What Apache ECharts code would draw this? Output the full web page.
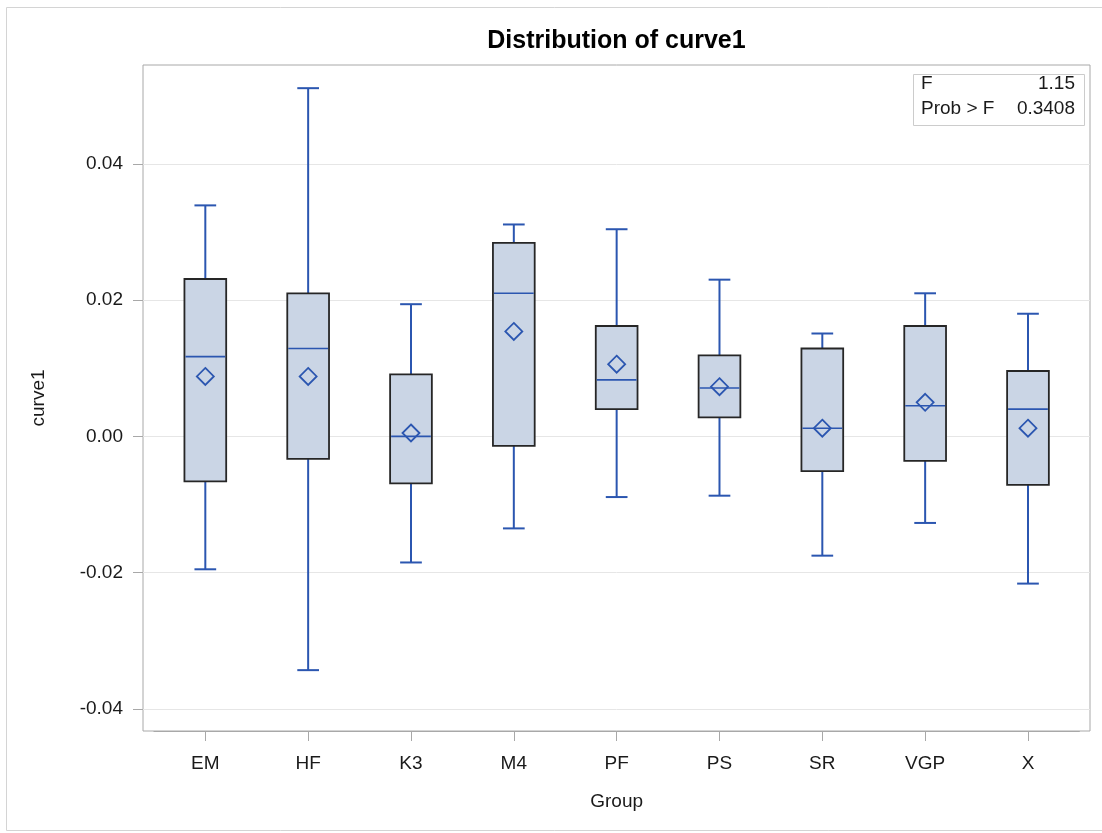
<!DOCTYPE html>
<html>
<head>
<meta charset="utf-8">
<script src="https://cdn.jsdelivr.net/npm/echarts@6/dist/echarts.min.js"></script>
<style>
html,body{margin:0;padding:0;background:#fff;}
#chart{width:1102px;height:833px;}
</style>
</head>
<body>
<div id="chart"></div>
<script>
// ---- data ----
const categories = ['EM', 'HF', 'K3', 'M4', 'PF', 'PS', 'SR', 'VGP', 'X'];
const minVals    = [-0.0195, -0.0343, -0.0185, -0.0135, -0.0089, -0.0087, -0.0175, -0.0127, -0.0216];
const q1Vals     = [-0.0066, -0.0033, -0.0069, -0.0014,  0.0040,  0.0028, -0.0051, -0.0036, -0.0071];
const medianVals = [ 0.0117,  0.0129,  0.0000,  0.0210,  0.0083,  0.0071,  0.0012,  0.0045,  0.0040];
const q3Vals     = [ 0.0231,  0.0210,  0.0091,  0.0284,  0.0162,  0.0119,  0.0129,  0.0162,  0.0096];
const maxVals    = [ 0.0339,  0.0511,  0.0194,  0.0311,  0.0304,  0.0230,  0.0151,  0.0210,  0.0180];
const meanVals   = [ 0.0088,  0.0088,  0.0005,  0.0154,  0.0106,  0.0073,  0.0012,  0.0050,  0.0012];
const yTicks     = [-0.04, -0.02, 0.00, 0.02, 0.04];
const yMin = -0.04323, yMax = 0.0545;
const statLabels = ['F', 'Prob > F'];
const statValues = ['1.15', '0.3408'];

const FONT = "'Liberation Sans', Arial, Helvetica, sans-serif";
const BLUE = '#2b56b0';
const GRAY = '#a8a8a8';

const boxData = categories.map((c, i) => [i, minVals[i], q1Vals[i], medianVals[i], q3Vals[i], maxVals[i], meanVals[i]]);

function renderBox(params, api) {
  const idx = api.value(0);
  const band = api.size([1, 0])[0];
  const halfW = band * 0.203;
  const capHalf = halfW * 0.52;
  const pMin = api.coord([idx, api.value(1)]);
  const pQ1 = api.coord([idx, api.value(2)]);
  const pMed = api.coord([idx, api.value(3)]);
  const pQ3 = api.coord([idx, api.value(4)]);
  const pMax = api.coord([idx, api.value(5)]);
  const pMean = api.coord([idx, api.value(6)]);
  const cx = pMed[0];
  const ls = {stroke: BLUE, lineWidth: 2};
  const d = 8.5;
  return {
    type: 'group',
    children: [
      {type: 'line', shape: {x1: cx, y1: pMin[1], x2: cx, y2: pQ1[1]}, style: ls},
      {type: 'line', shape: {x1: cx, y1: pQ3[1], x2: cx, y2: pMax[1]}, style: ls},
      {type: 'line', shape: {x1: cx - capHalf, y1: pMin[1], x2: cx + capHalf, y2: pMin[1]}, style: ls},
      {type: 'line', shape: {x1: cx - capHalf, y1: pMax[1], x2: cx + capHalf, y2: pMax[1]}, style: ls},
      {type: 'rect', shape: {x: cx - halfW, y: pQ3[1], width: 2 * halfW, height: pQ1[1] - pQ3[1]},
        style: {fill: '#cad5e5', stroke: '#262626', lineWidth: 1.8}},
      {type: 'line', shape: {x1: cx - halfW + 1, y1: pMed[1], x2: cx + halfW - 1, y2: pMed[1]},
        style: {stroke: BLUE, lineWidth: 1.6}},
      {type: 'polygon', shape: {points: [[cx, pMean[1] - d], [cx + d, pMean[1]], [cx, pMean[1] + d], [cx - d, pMean[1]]]},
        style: {fill: 'none', stroke: BLUE, lineWidth: 1.8}}
    ]
  };
}

const chart = echarts.init(document.getElementById('chart'), null, {renderer: 'canvas'});
const option = {
  backgroundColor: '#ffffff',
  animation: false,
  textStyle: {fontFamily: FONT},
  title: {
    text: 'Distribution of curve1',
    left: 616.5, top: 29, padding: 0, textAlign: 'center',
    textStyle: {fontFamily: FONT, fontSize: 25, fontWeight: 'bold', color: '#000'}
  },
  grid: [
    {left: 143, right: 12, top: 65, bottom: 102, show: true, borderColor: GRAY, borderWidth: 1, backgroundColor: 'transparent'},
    {left: 153.9, right: 22.6, top: 65, bottom: 102}
  ],
  xAxis: [
    {type: 'value', gridIndex: 0, min: 0, max: 1, show: false},
    {
      type: 'category', gridIndex: 1, data: categories, position: 'bottom',
      axisLine: {show: true, onZero: false, lineStyle: {color: GRAY, width: 1}},
      axisTick: {show: true, alignWithLabel: true, length: 10, lineStyle: {color: GRAY, width: 1}},
      axisLabel: {fontFamily: FONT, fontSize: 19, color: '#1a1a1a', margin: 23},
      name: 'Group', nameLocation: 'middle', nameGap: 61,
      nameTextStyle: {fontFamily: FONT, fontSize: 19, color: '#1a1a1a'},
      splitLine: {show: false}
    }
  ],
  yAxis: [
    {
      type: 'value', gridIndex: 0, min: yMin, max: yMax,
      axisLine: {show: false},
      axisTick: {show: true, length: 10, customValues: yTicks, lineStyle: {color: GRAY, width: 1}},
      axisLabel: {customValues: yTicks, fontFamily: FONT, fontSize: 19, color: '#1a1a1a', margin: 20,
        formatter: v => Number(v).toFixed(2)},
      splitLine: {show: true, lineStyle: {color: '#e6e6e6', width: 1}},
      name: 'curve1', nameLocation: 'middle', nameGap: 95,
      nameTextStyle: {fontFamily: FONT, fontSize: 19, color: '#1a1a1a'}
    },
    {type: 'value', gridIndex: 1, min: yMin, max: yMax, show: false, splitLine: {show: false}}
  ],
  series: [{
    type: 'custom',
    name: 'curve1',
    xAxisIndex: 1, yAxisIndex: 1,
    data: boxData,
    encode: {x: 0, y: [1, 2, 3, 4, 5, 6]},
    renderItem: renderBox,
    clip: false
  }],
  graphic: [
    {type: 'rect', silent: true, z: -10, shape: {x: 6.5, y: 7.5, width: 1110, height: 823},
      style: {fill: 'none', stroke: '#d4d4d4', lineWidth: 1}},
    {type: 'group', left: 913, top: 74, children: [
      {type: 'rect', shape: {x: 0.5, y: 0.5, width: 171, height: 51}, style: {fill: '#fff', stroke: '#cccccc', lineWidth: 1}},
      {type: 'text', x: 8, y: 10, style: {text: statLabels[0], font: '19px ' + FONT, fill: '#1a1a1a', textVerticalAlign: 'middle'}},
      {type: 'text', x: 162, y: 10, style: {text: statValues[0], font: '19px ' + FONT, fill: '#1a1a1a', textAlign: 'right', textVerticalAlign: 'middle'}},
      {type: 'text', x: 8, y: 35, style: {text: statLabels[1], font: '19px ' + FONT, fill: '#1a1a1a', textVerticalAlign: 'middle'}},
      {type: 'text', x: 162, y: 35, style: {text: statValues[1], font: '19px ' + FONT, fill: '#1a1a1a', textAlign: 'right', textVerticalAlign: 'middle'}}
    ]}
  ]
};
chart.setOption(option);
</script>
</body>
</html>
